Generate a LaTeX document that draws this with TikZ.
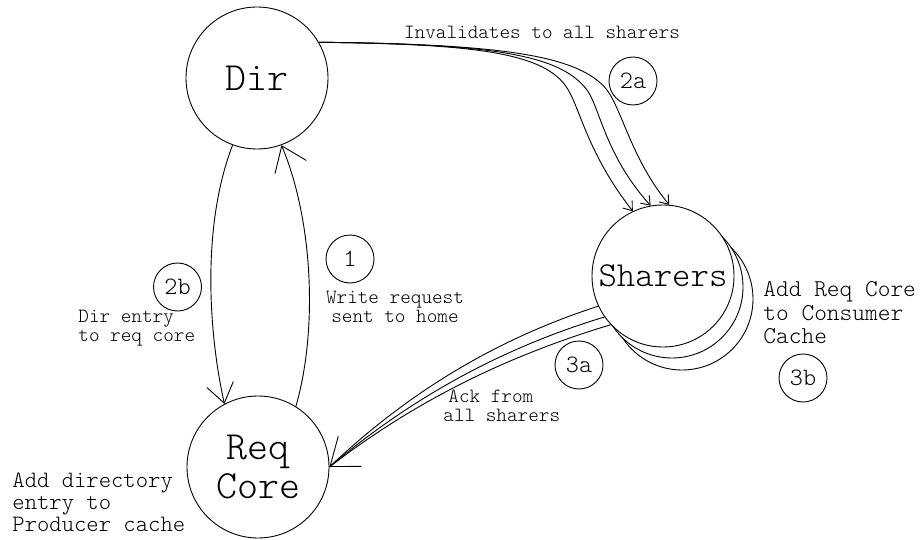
\documentclass[tikz,border=0pt]{standalone}
\usepackage{fontspec}
\newfontfamily\lml{lmmonolt10-regular}[Extension=.otf]
\usetikzlibrary{arrows.meta}
\begin{document}
\begin{tikzpicture}[x=1pt,y=-1pt,line width=0.9pt,
  every node/.style={font=\lml},
  big/.style={circle,draw,minimum size=142pt,inner sep=0pt,fill=white,align=center,font=\lml\fontsize{40}{38.5}\selectfont},
  stepc/.style={circle,draw,minimum size=48pt,inner sep=0pt,font=\lml\fontsize{25}{26}\selectfont},
  lbl/.style={inner sep=0pt,font=\lml\fontsize{20.2}{19.5}\selectfont},
  tipL/.style={-{Straight Barb[length=25pt,width=38pt]}},
  tipM/.style={-{Straight Barb[length=23pt,width=34pt]}},
  tipS/.style={-{Straight Barb[length=19pt,width=27pt]}},
  tipT/.style={-{Straight Barb[length=8pt,width=12pt]}}]
\useasboundingbox (0,0) rectangle (920,540);
% nodes
\node[big] (dir) at (257,78) {Dir};
\node[big] (req) at (258,467) {Req\\Core};
\node[big] (sh3) at (682,299) {};
\node[big] (sh2) at (672,287) {};
\node[big,font=\lml\fontsize{35.1}{33}\selectfont] (sh) at (663,276) {Sharers};
% step circles
\node[stepc] (s2a) at (633,81) {2a};
\node[stepc] (s2b) at (177.5,287) {2b};
\node[stepc] (s1) at (350,259) {1};
\node[stepc] (s3a) at (579,365) {3a};
\node[stepc] (s3b) at (803,378) {3b};
% labels
\node[lbl] (inv) at (542,32) {Invalidates to all sharers};
\node[lbl,anchor=west,align=left] (l2b) at (78,328) {Dir entry\\to req core};
\node[lbl,align=center] (l1) at (395,307) {Write request\\sent to home};
\node[lbl,anchor=west,align=left] (l3a) at (443,406) {\hspace*{5pt}Ack from\\all sharers};
\node[inner sep=0pt,anchor=west,align=left,font=\lml\fontsize{24.2}{23.5}\selectfont] (l3b) at (763,313) {Add Req Core\\to Consumer\\Cache};
\node[inner sep=0pt,anchor=west,align=left,font=\lml\fontsize{23.5}{22}\selectfont] (lreq) at (12,502) {Add directory\\entry to\\Producer cache};
% connectors
\draw[tipS] (dir.250) .. controls (200,230) and (210,340) .. (req.118);
\draw[tipM] (req.58) .. controls (318,330) and (313,220) .. (dir.290);
\draw[tipT] (dir.30) .. controls (470,44) and (540,52) .. (565,85) .. controls (580,105) and (585,150) .. (sh.115);
\draw[tipT] (dir.30) .. controls (490,44) and (560,54) .. (587,90) .. controls (600,108) and (605,155) .. (sh.100);
\draw[tipT] (dir.30) .. controls (505,44) and (580,56) .. (607,90) .. controls (622,110) and (632,160) .. (sh.85);
\draw (sh.205) .. controls (487,342) and (400,400) .. (req.0);
\draw (sh.215) .. controls (495,350) and (405,403) .. (req.0);
\draw[tipL] (sh.223) .. controls (500,358) and (410,405) .. (req.0);
\end{tikzpicture}
\end{document}
